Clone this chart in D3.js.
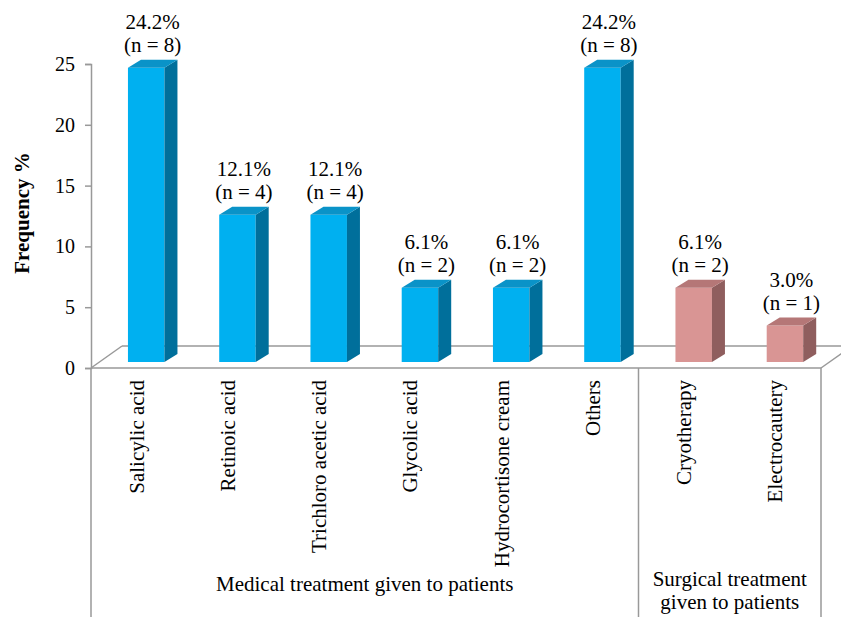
<!DOCTYPE html>
<html>
<head>
<meta charset="utf-8">
<script src="https://cdn.jsdelivr.net/npm/d3@7"></script>
<style>
  html, body { margin: 0; padding: 0; background: #fff; }
  svg { display: block; }
</style>
</head>
<body>
<svg id="chart" width="841" height="617"></svg>
<script>
// Treatment categories and their frequencies
const categories = ["Salicylic acid", "Retinoic acid", "Trichloro acetic acid", "Glycolic acid",
                    "Hydrocortisone cream", "Others", "Cryotherapy", "Electrocautery"];
const percents = [24.2, 12.1, 12.1, 6.1, 6.1, 24.2, 6.1, 3.0];
const counts = [8, 4, 4, 2, 2, 8, 2, 1];
const groupOf = ["medical", "medical", "medical", "medical", "medical", "medical", "surgical", "surgical"];
const groups = [
  { key: "medical", lines: ["Medical treatment given to patients"] },
  { key: "surgical", lines: ["Surgical treatment", "given to patients"] }
];
const yTicks = [0, 5, 10, 15, 20, 25];

const palette = {
  medical: { front: "#00B0F0", side: "#006F9B", top: "#0A93C8" },
  surgical: { front: "#D99594", side: "#8F5E5E", top: "#B57777" }
};

const FONT = "'Liberation Serif', 'Times New Roman', serif";
const FS = "21px";
const svg = d3.select("#chart");
const left = 91, right = 821, floorY = 368, topY = 64;
const depthX = 31, depthY = -22;      // floor depth
const barDX = 13, barDY = -8;         // bar depth
const axisColor = "#999";

const x = d3.scaleBand().domain(categories).range([left, right]).padding(0);
const y = d3.scaleLinear().domain([0, 25]).range([floorY, topY]);
const bw = x.bandwidth();
const barW = bw * 0.4;
const barOff = bw * 0.405;
const barBase = floorY - 6;           // bars stand mid-way into the floor

// Floor
const floor = svg.append("g").attr("stroke", axisColor).attr("stroke-width", 1.5).attr("fill", "none");
floor.append("line").attr("x1", left).attr("y1", floorY).attr("x2", right).attr("y2", floorY);
floor.append("line").attr("x1", left).attr("y1", floorY).attr("x2", left + depthX).attr("y2", floorY + depthY);
floor.append("line").attr("x1", left + depthX).attr("y1", floorY + depthY).attr("x2", 841).attr("y2", floorY + depthY);
floor.append("line").attr("x1", right).attr("y1", floorY).attr("x2", right + depthX).attr("y2", floorY + depthY);

// Y axis
const yAxis = svg.append("g").attr("transform", `translate(${left},0)`)
  .call(d3.axisLeft(y).tickValues(yTicks).tickSize(6).tickPadding(10));
yAxis.attr("font-family", null).attr("font-size", null);
yAxis.select(".domain").attr("stroke", axisColor).attr("stroke-width", 1.5);
yAxis.selectAll(".tick line").attr("stroke", axisColor).attr("stroke-width", 1.5);
yAxis.selectAll(".tick text").style("font-size", "20px").style("font-family", FONT).attr("fill", "#000");

svg.append("text")
  .attr("transform", `translate(29,${(topY + floorY) / 2 - 3}) rotate(-90)`)
  .attr("text-anchor", "middle")
  .style("font-family", FONT).style("font-size", "21px").style("font-weight", "bold")
  .text("Frequency %");

// Bars
const bars = svg.append("g");
categories.forEach((c, i) => {
  const v = percents[i];
  const col = palette[groupOf[i]];
  const x0 = x(c) + barOff, x1 = x0 + barW;
  const h = y(0) - y(v);
  const yt = barBase - h, yb = barBase;
  bars.append("polygon")
    .attr("points", [[x0, yt], [x1, yt], [x1, yb], [x0, yb]].join(" "))
    .attr("fill", col.front);
  bars.append("polygon")
    .attr("points", [[x1, yt], [x1 + barDX, yt + barDY], [x1 + barDX, yb + barDY], [x1, yb]].join(" "))
    .attr("fill", col.side);
  bars.append("polygon")
    .attr("points", [[x0, yt], [x0 + barDX, yt + barDY], [x1 + barDX, yt + barDY], [x1, yt]].join(" "))
    .attr("fill", col.top);

  const cx = x0 + (barW + barDX) / 2;
  const lab = svg.append("text").attr("text-anchor", "middle")
    .style("font-family", FONT).style("font-size", FS);
  lab.append("tspan").attr("x", cx).attr("y", yt + barDY - 31).text(v.toFixed(1) + "%");
  lab.append("tspan").attr("x", cx).attr("y", yt + barDY - 8).text(`(n = ${counts[i]})`);
});

// Category labels
categories.forEach(c => {
  const cx = x(c) + bw / 2;
  svg.append("text")
    .attr("transform", `translate(${cx + 7},${floorY + 12}) rotate(-90)`)
    .attr("text-anchor", "end")
    .style("font-family", FONT).style("font-size", FS)
    .text(c);
});

// Group separators and labels
const groupSpans = groups.map(g => {
  const members = categories.filter((c, i) => groupOf[i] === g.key);
  return { g, x0: x(members[0]), x1: x(members[members.length - 1]) + bw };
});
const seps = svg.append("g").attr("stroke", axisColor).attr("stroke-width", 1.5);
const sepXs = [left, ...groupSpans.map(s => s.x1)];
sepXs.forEach(sx => {
  seps.append("line").attr("x1", sx).attr("y1", floorY).attr("x2", sx).attr("y2", 617);
});
groupSpans.forEach(s => {
  const t = svg.append("text").attr("text-anchor", "middle")
    .style("font-family", FONT).style("font-size", FS);
  const y0 = s.g.lines.length > 1 ? 586 : 591;
  s.g.lines.forEach((ln, k) => {
    t.append("tspan").attr("x", (s.x0 + s.x1) / 2).attr("y", y0 + k * 23.4).text(ln);
  });
});
</script>
</body>
</html>
